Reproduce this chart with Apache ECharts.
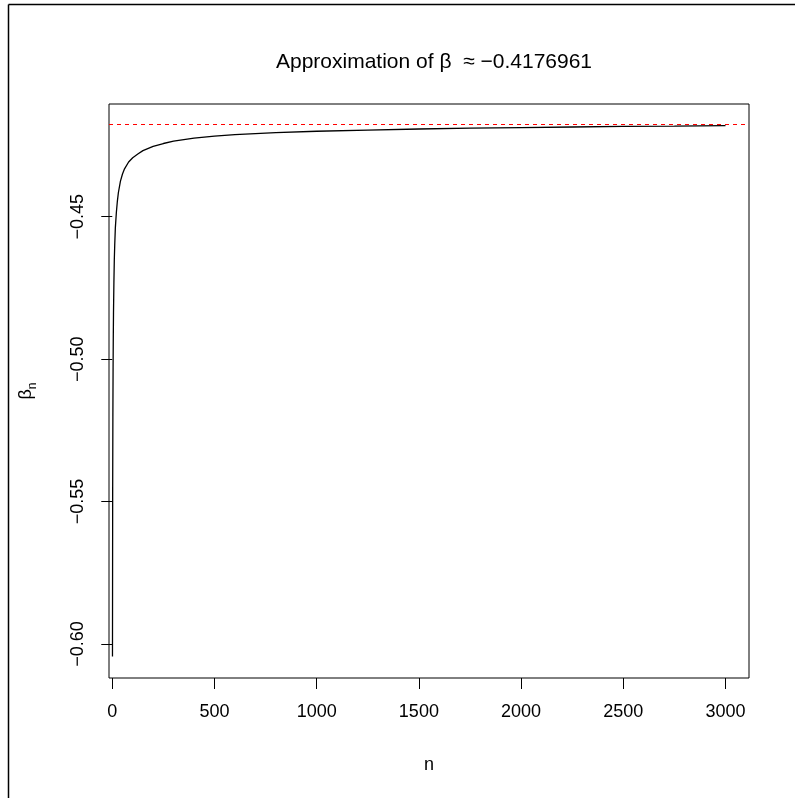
<!DOCTYPE html>
<html>
<head>
<meta charset="utf-8">
<script src="https://cdn.jsdelivr.net/npm/echarts@6/dist/echarts.min.js"></script>
<style>
html,body{margin:0;padding:0;background:#fff;}
#chart{width:795px;height:798px;}
</style>
</head>
<body>
<div id="chart"></div>
<script>
// Data
const nValues = [1, 2, 3, 4, 5, 6, 8, 10, 12, 15, 20, 25, 30, 40, 50, 60, 80, 100, 125, 150, 200, 250, 300, 400, 500, 600, 800, 1000, 1250, 1500, 1750, 2000, 2250, 2500, 2750, 3000];
const betaValues = [-0.6044, -0.545, -0.520, -0.503, -0.492, -0.484, -0.473, -0.465, -0.460, -0.454, -0.4485, -0.4445, -0.4415, -0.4375, -0.4350, -0.4332, -0.4308, -0.4293, -0.4280, -0.4268, -0.4253, -0.4243, -0.4235, -0.4224, -0.4217, -0.4212, -0.4205, -0.4200, -0.4196, -0.4192, -0.4189, -0.4187, -0.4185, -0.4183, -0.4182, -0.4180];
const betaLimit = -0.4176961;
const xTicks = [0, 500, 1000, 1500, 2000, 2500, 3000];
const yTicks = [-0.60, -0.55, -0.50, -0.45];
const titleText = 'Approximation of \u03B2  \u2248 \u22120.4176961';

const seriesData = nValues.map((n, i) => [n, betaValues[i]]);
const FONT = '"Liberation Sans", Arial, sans-serif';

const chart = echarts.init(document.getElementById('chart'), null, {renderer: 'canvas'});
chart.setOption({
  backgroundColor: '#fff',
  animation: false,
  title: {
    text: titleText,
    left: 429,
    top: 47,
    textAlign: 'center',
    textStyle: {fontFamily: FONT, fontSize: 21, fontWeight: 'normal', color: '#000'}
  },
  grid: {
    left: 109, top: 104, width: 640, height: 574,
    show: true, borderColor: '#000', borderWidth: 1, backgroundColor: 'transparent'
  },
  xAxis: {
    type: 'value',
    min: -16, max: 3115,
    name: 'n',
    nameLocation: 'middle',
    nameGap: 78,
    nameTextStyle: {fontFamily: FONT, fontSize: 18, color: '#000'},
    axisLine: {show: false},
    splitLine: {show: false},
    axisTick: {show: true, length: 11, customValues: xTicks, lineStyle: {color: '#000', width: 1}},
    axisLabel: {customValues: xTicks, margin: 25, fontFamily: FONT, fontSize: 18, color: '#000',
      formatter: v => String(Math.round(v))}
  },
  yAxis: {
    type: 'value',
    min: -0.61194, max: -0.41043,
    name: '{b|\u03B2}{s|n}',
    nameLocation: 'middle',
    nameRotate: 90,
    nameGap: 70,
    nameTextStyle: {
      rich: {
        b: {fontFamily: FONT, fontSize: 18, color: '#000', lineHeight: 26, verticalAlign: 'middle'},
        s: {fontFamily: FONT, fontSize: 12, color: '#000', lineHeight: 26, verticalAlign: 'bottom', padding: [8, 0, 0, 0]}
      }
    },
    axisLine: {show: false},
    splitLine: {show: false},
    axisTick: {show: true, length: 11, customValues: yTicks, lineStyle: {color: '#000', width: 1}},
    axisLabel: {
      customValues: yTicks, rotate: 90, margin: 22,
      fontFamily: FONT, fontSize: 18, color: '#000',
      formatter: v => v.toFixed(2).replace('-', '\u2212')
    }
  },
  graphic: [
    {type: 'line', shape: {x1: 8.5, y1: 4.5, x2: 795, y2: 4.5}, style: {stroke: '#000', lineWidth: 1.5}},
    {type: 'line', shape: {x1: 8.5, y1: 4.5, x2: 8.5, y2: 798}, style: {stroke: '#000', lineWidth: 1.5}}
  ],
  series: [{
    type: 'line',
    data: seriesData,
    showSymbol: false,
    symbol: 'none',
    lineStyle: {color: '#000', width: 1.3},
    clip: true,
    markLine: {
      silent: true,
      symbol: 'none',
      precision: 8,
      label: {show: false},
      lineStyle: {color: '#ff0000', type: [4, 4], width: 1},
      data: [{yAxis: betaLimit}]
    }
  }]
});
</script>
</body>
</html>
